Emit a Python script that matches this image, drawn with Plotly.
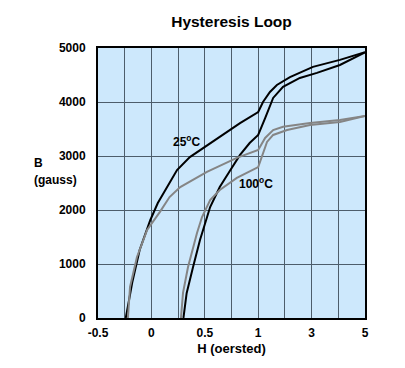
import plotly.graph_objects as go

# H in oersted, B in gauss
h25_up = [-0.24, -0.18, -0.11, -0.01, 0.06, 0.15, 0.24, 0.36, 0.52, 0.83, 1.0, 1.18, 1.44, 1.70, 2.19, 3.05, 4.06, 5.0]
b25_up = [0, 650, 1260, 1815, 2130, 2430, 2740, 2980, 3200, 3610, 3815, 4000, 4185, 4315, 4460, 4650, 4780, 4920]
h25_lo = [0.30, 0.33, 0.39, 0.455, 0.55, 0.64, 0.74, 0.83, 0.92, 1.0, 1.26, 1.56, 1.93, 2.56, 3.20, 4.06, 5.0]
b25_lo = [0, 460, 945, 1445, 2055, 2425, 2740, 3020, 3240, 3390, 3700, 4075, 4280, 4445, 4540, 4685, 4920]
h100_up = [-0.22, -0.20, -0.135, -0.04, 0.08, 0.17, 0.27, 0.52, 0.80, 1.0, 1.26, 1.56, 1.93, 2.94, 4.06, 5.0]
b100_up = [0, 575, 1130, 1630, 1965, 2240, 2425, 2705, 2965, 3110, 3335, 3480, 3540, 3610, 3665, 3740]
h100_lo = [0.277, 0.296, 0.343, 0.427, 0.474, 0.55, 0.64, 0.80, 1.0, 1.33, 1.56, 2.08, 2.94, 4.06, 5.0]
b100_lo = [0, 465, 945, 1575, 1870, 2185, 2370, 2595, 2795, 3260, 3390, 3480, 3575, 3630, 3740]

tick_h = [-0.5, 0, 0.5, 1, 3, 5]
tick_labels = ["-0.5", "0", "0.5", "1", "3", "5"]
b_ticks = [0, 1000, 2000, 3000, 4000, 5000]


def pos(h):
    # piecewise axis: linear to 1, then compressed (2 oersted per half step)
    return h if h <= 1 else 1 + (h - 1) * 0.25


FONT = "Liberation Sans, Arial, sans-serif"
fig = go.Figure()
for hs, bs, col in [(h25_up, b25_up, "black"), (h25_lo, b25_lo, "black"),
                    (h100_up, b100_up, "#858585"), (h100_lo, b100_lo, "#858585")]:
    fig.add_trace(go.Scatter(x=[pos(h) for h in hs], y=bs, mode="lines",
                             line=dict(color=col, width=2),
                             showlegend=False, hoverinfo="skip"))

fig.add_annotation(x=pos(0.33), y=3270, text="<b>25<sup>o</sup>C</b>", showarrow=False,
                   font=dict(family=FONT, size=12, color="black"))
fig.add_annotation(x=pos(0.98), y=2500, text="<b>100<sup>o</sup>C</b>", showarrow=False,
                   font=dict(family=FONT, size=12, color="black"))
fig.add_annotation(xref="paper", yref="paper", x=-0.243, y=0.544, yanchor="bottom", borderpad=0,
                   text="<b>B</b>", showarrow=False, font=dict(family=FONT, size=12, color="black"))
fig.add_annotation(xref="paper", yref="paper", x=-0.243, y=0.542, yanchor="top", borderpad=0,
                   text="<b>(gauss)</b>", showarrow=False, font=dict(family=FONT, size=12, color="black"))

fig.update_layout(
    width=397, height=360,
    margin=dict(l=90, r=40, t=40, b=50),
    paper_bgcolor="white", plot_bgcolor="#cde8fc",
    title=dict(text="<b>Hysteresis Loop</b>", x=(90 + 357) / 2 / 397, xanchor="center",
               y=1 - 14 / 360, yanchor="middle", font=dict(family=FONT, size=15.5, color="black")),
    font=dict(family=FONT, size=12, color="black"),
)
fig.update_xaxes(range=[-0.5, 2.0], tickvals=[pos(h) for h in tick_h], ticktext=[f"<b>{t}</b>" for t in tick_labels],
                 showgrid=True, gridcolor="#4d5d6b", gridwidth=1,
                 minor=dict(dtick=0.25, tick0=-0.5, showgrid=True, gridcolor="#4d5d6b", gridwidth=1),
                 showline=True, linecolor="black", linewidth=2, mirror=True, zeroline=False,
                 ticks="outside", ticklen=3, tickcolor="rgba(0,0,0,0)",
                 title=dict(text="<b>H (oersted)</b>", standoff=4, font=dict(size=13)),
                 tickfont=dict(size=12))
fig.update_yaxes(range=[0, 5000], tickvals=b_ticks,
                 ticktext=[f"<b>{v}</b>" for v in b_ticks],
                 showgrid=True, gridcolor="#4d5d6b", gridwidth=1,
                 showline=True, linecolor="black", linewidth=2, mirror=True, zeroline=False,
                 ticks="outside", ticklen=8, tickcolor="rgba(0,0,0,0)", tickfont=dict(size=12))

fig.write_html("out.html")
